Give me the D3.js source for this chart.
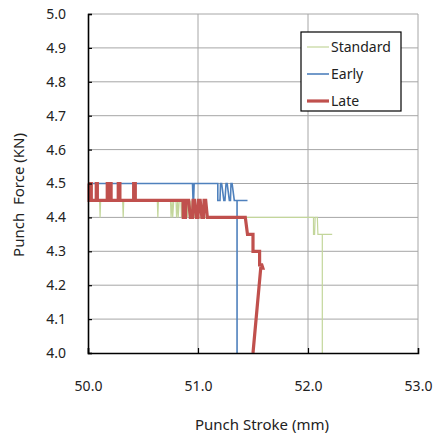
<!DOCTYPE html>
<html><head><meta charset="utf-8">
<script src="https://cdn.jsdelivr.net/npm/d3@7"></script>
<style>body{margin:0;background:#fff;} text{font-family:"Noto Sans","Open Sans",sans-serif;}</style>
</head><body>
<svg id="c" width="433" height="435"></svg>
<script>
const xTicks = [50.0, 51.0, 52.0, 53.0];
const yTicks = [4.0, 4.1, 4.2, 4.3, 4.4, 4.5, 4.6, 4.7, 4.8, 4.9, 5.0];
const seriesNames = ["Standard", "Early", "Late"];
const seriesColors = ["#c3d69b", "#4f81bd", "#c0504d"];
const seriesWidths = [1.2, 1.6, 3.2];

const standardData = [[50.00,4.45],[50.105,4.45],[50.11,4.40],[50.115,4.45],[50.315,4.45],[50.32,4.40],[50.325,4.45],[50.63,4.45],[50.635,4.40],[50.64,4.45],[50.75,4.45],[50.755,4.40],[50.765,4.45],[50.77,4.40],[50.78,4.45],[50.80,4.45],[50.805,4.40],[50.815,4.45],[50.82,4.40],[50.83,4.45],[50.845,4.45],[50.85,4.40],[50.86,4.45],[50.90,4.45],[50.905,4.40],[50.915,4.45],[50.925,4.40],[50.935,4.45],[50.945,4.40],[50.955,4.45],[50.965,4.40],[50.975,4.45],[50.985,4.40],[52.05,4.40],[52.05,4.35],[52.06,4.35],[52.065,4.40],[52.085,4.40],[52.09,4.35],[52.22,4.35],[52.13,4.35],[52.13,4.00]];

const earlyData = [[50.00,4.50],[50.95,4.50],[50.955,4.45],[50.96,4.45],[50.965,4.50],[51.18,4.50],[51.18,4.45],[51.20,4.45],[51.205,4.50],[51.215,4.50],[51.235,4.45],[51.245,4.45],[51.255,4.50],[51.265,4.50],[51.285,4.45],[51.295,4.45],[51.30,4.50],[51.31,4.50],[51.33,4.45],[51.45,4.45],[51.355,4.45],[51.355,4.00]];

const lateData = [[50.00,4.50],[50.01,4.50],[50.01,4.45],[50.02,4.45],[50.02,4.50],[50.03,4.50],[50.03,4.45],[50.075,4.45],[50.075,4.50],[50.085,4.50],[50.085,4.45],[50.175,4.45],[50.175,4.50],[50.19,4.50],[50.19,4.45],[50.20,4.45],[50.20,4.50],[50.21,4.50],[50.21,4.45],[50.275,4.45],[50.275,4.50],[50.29,4.50],[50.29,4.45],[50.415,4.45],[50.415,4.50],[50.43,4.50],[50.43,4.45],[50.864,4.45],[50.866,4.40],[50.886,4.40],[50.89,4.45],[50.915,4.45],[50.93,4.40],[50.95,4.40],[50.955,4.45],[50.97,4.45],[50.985,4.40],[51.00,4.40],[51.005,4.45],[51.02,4.45],[51.035,4.40],[51.05,4.40],[51.055,4.45],[51.07,4.45],[51.085,4.40],[51.43,4.40],[51.45,4.35],[51.50,4.35],[51.50,4.30],[51.56,4.30],[51.56,4.26],[51.58,4.26],[51.59,4.25],[51.57,4.25],[51.50,4.00]];

const allSeries = [standardData, earlyData, lateData];

const L = 88, R = 418, T = 14, B = 353;
const x = d3.scaleLinear().domain([50, 53]).range([L, R]);
const y = d3.scaleLinear().domain([4.0, 5.0]).range([B, T]);
const svg = d3.select("#c");

// gridlines
svg.append("g").selectAll("line").data(yTicks.filter(v => v > 4.0)).join("line")
  .attr("x1", L).attr("x2", R).attr("y1", d => y(d)).attr("y2", d => y(d))
  .attr("stroke", "#a6a6a6").attr("stroke-width", 1);
svg.append("g").selectAll("line").data(xTicks.filter(v => v > 50)).join("line")
  .attr("y1", T).attr("y2", B).attr("x1", d => x(d)).attr("x2", d => x(d))
  .attr("stroke", "#a6a6a6").attr("stroke-width", 1);

// series
const line = d3.line().x(d => x(d[0])).y(d => y(d[1]));
allSeries.forEach((s, i) => {
  svg.append("path").datum(s).attr("d", line).attr("fill", "none")
    .attr("stroke", seriesColors[i]).attr("stroke-width", seriesWidths[i])
    .attr("stroke-linejoin", "miter");
});

// axes
const yAxis = d3.axisLeft(y).tickValues(yTicks).tickFormat(d3.format(".1f")).tickSize(-4).tickPadding(22);
const gy = svg.append("g").attr("transform", `translate(${L},0)`).call(yAxis);
const xAxis = d3.axisBottom(x).tickValues(xTicks).tickFormat(d3.format(".1f")).tickSize(-5).tickPadding(28);
const gx = svg.append("g").attr("transform", `translate(0,${B})`).call(xAxis);
[gy, gx].forEach(g => {
  g.select(".domain").attr("stroke", "#000").attr("stroke-width", 1.6);
  g.selectAll(".tick line").attr("stroke", "#000").attr("stroke-width", 1.2);
  g.selectAll(".tick text").attr("font-size", 14).attr("fill", "#222")
    .attr("font-family", "'Noto Sans', sans-serif");
});
gx.selectAll(".tick").filter(d => d === 53.0).select("line").remove();

// axis titles
svg.append("text").attr("x", 262).attr("y", 430).attr("text-anchor", "middle")
  .attr("font-size", 15).attr("fill", "#222").text("Punch Stroke (mm)");
svg.append("text").attr("transform", "translate(24,195) rotate(-90)").attr("text-anchor", "middle")
  .attr("font-size", 15).attr("fill", "#222").attr("xml:space", "preserve")
  .style("white-space", "pre").text("Punch  Force (KN)");

// legend
const lg = svg.append("g");
lg.append("rect").attr("x", 301).attr("y", 32).attr("width", 100).attr("height", 79)
  .attr("fill", "#fff").attr("stroke", "#000").attr("stroke-width", 1.2);
seriesNames.forEach((n, i) => {
  const yy = 47 + i * 27;
  lg.append("line").attr("x1", 307).attr("x2", 329).attr("y1", yy).attr("y2", yy)
    .attr("stroke", seriesColors[i]).attr("stroke-width", seriesWidths[i]);
  lg.append("text").attr("x", 331).attr("y", yy + 5).attr("font-size", 14).attr("fill", "#222").text(n);
});
</script>
</body></html>
